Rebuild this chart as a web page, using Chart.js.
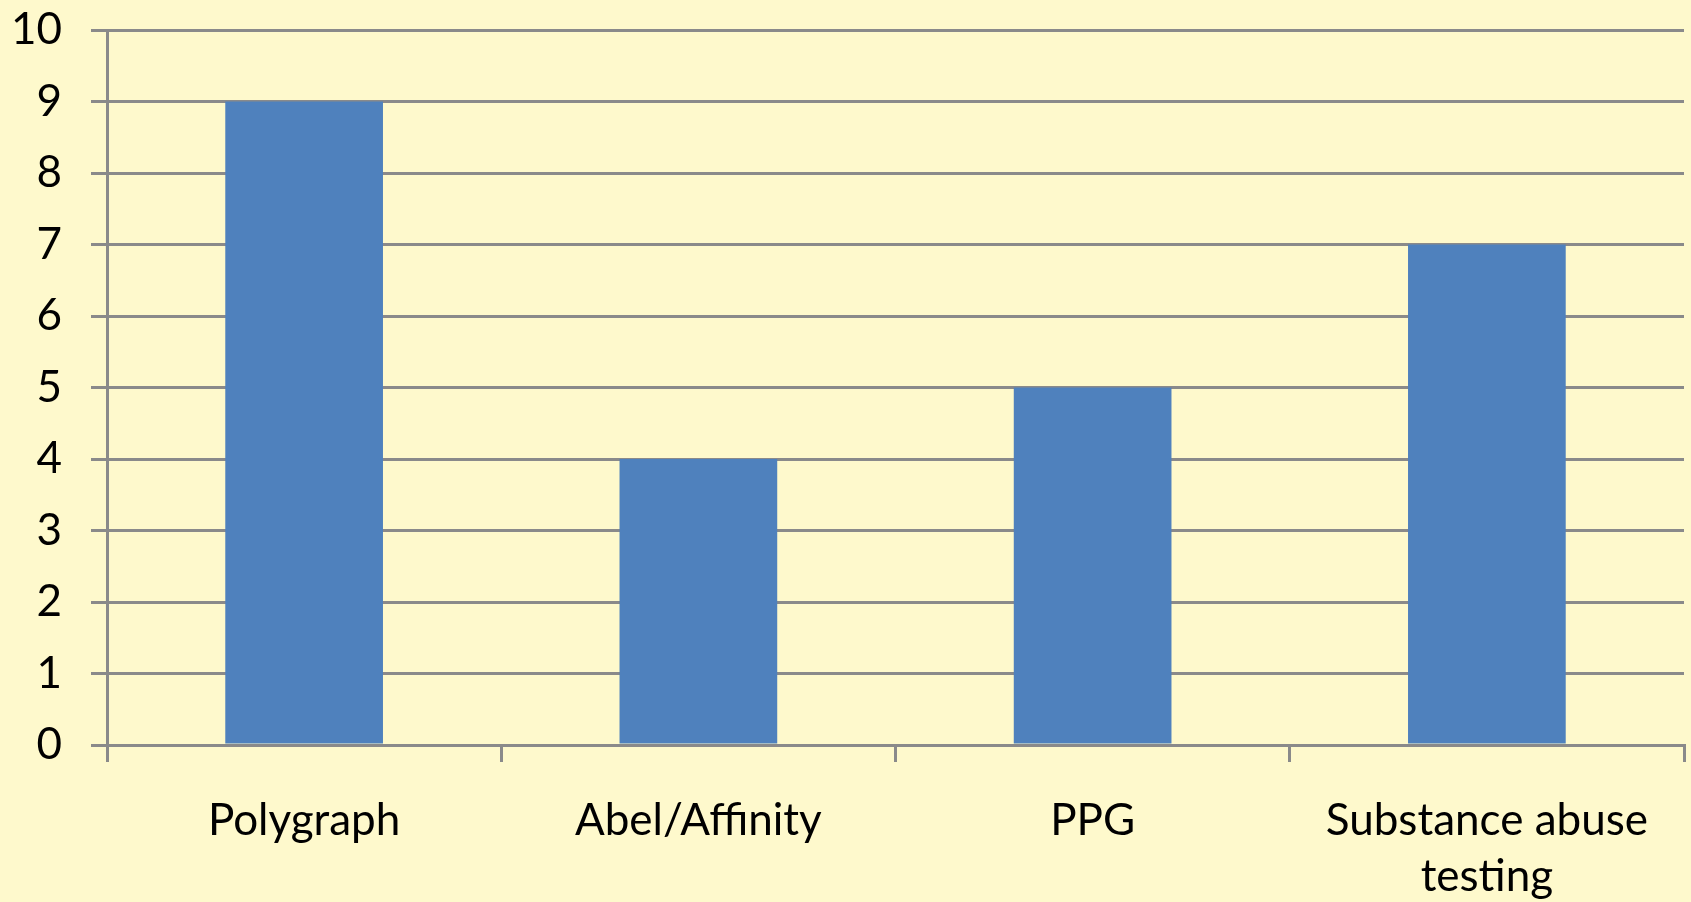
<!DOCTYPE html>
<html>
<head>
<meta charset="utf-8">
<script src="https://cdn.jsdelivr.net/npm/chart.js@4"></script>
<style>
  html, body { margin: 0; padding: 0; background: #fef9cc; }
  canvas { display: block; }
</style>
</head>
<body>
<canvas id="methods-chart" width="1691" height="902"></canvas>
<script>
// Assessment methods
const categories = ['Polygraph', 'Abel/Affinity', 'PPG', ['Substance abuse', 'testing']];
const counts = [9, 4, 5, 7];
const yTicks = [0, 1, 2, 3, 4, 5, 6, 7, 8, 9, 10];

const gridColor = '#8a8a8a';
const fontFamily = 'Lato, "Open Sans", sans-serif';

const ctx_methods = document.getElementById('methods-chart').getContext('2d');

const methods_chart = new Chart(ctx_methods, {
    type: 'bar',
    data: {
        labels: categories,
        datasets: [{
            data: counts,
            backgroundColor: '#4f81bd',
            borderWidth: 0,
            categoryPercentage: 1.0,
            barPercentage: 0.4,
        }]
    },
    options: {
        responsive: false,
        animation: false,
        layout: { padding: { left: 0, right: 7, top: 0, bottom: 0 } },
        plugins: {
            legend: { display: false },
            tooltip: { enabled: false },
        },
        scales: {
            x: {
                offset: true,
                grid: {
                    offset: true,
                    drawOnChartArea: false,
                    drawTicks: true,
                    tickLength: 17,
                    color: gridColor,
                    lineWidth: 3,
                },
                border: { display: true, color: gridColor, width: 3 },
                ticks: {
                    color: '#000',
                    font: { family: fontFamily, size: 44, lineHeight: 1.27 },
                    padding: 31,
                    maxRotation: 0,
                    autoSkip: false,
                },
                afterFit: (scale) => { scale.height = 157; },
            },
            y: {
                min: 0,
                max: 10,
                afterBuildTicks: (scale) => { scale.ticks = yTicks.map(v => ({ value: v })); },
                grid: {
                    color: gridColor,
                    lineWidth: 3,
                    tickLength: 16,
                },
                border: { display: true, color: gridColor, width: 3 },
                ticks: {
                    color: '#000',
                    // tiny line height keeps the top padding tight
                    font: { family: fontFamily, size: 44, lineHeight: 0.05 },
                    padding: 29,
                },
                afterFit: (scale) => { scale.width = 107; },
            }
        }
    }
});
</script>
</body>
</html>
